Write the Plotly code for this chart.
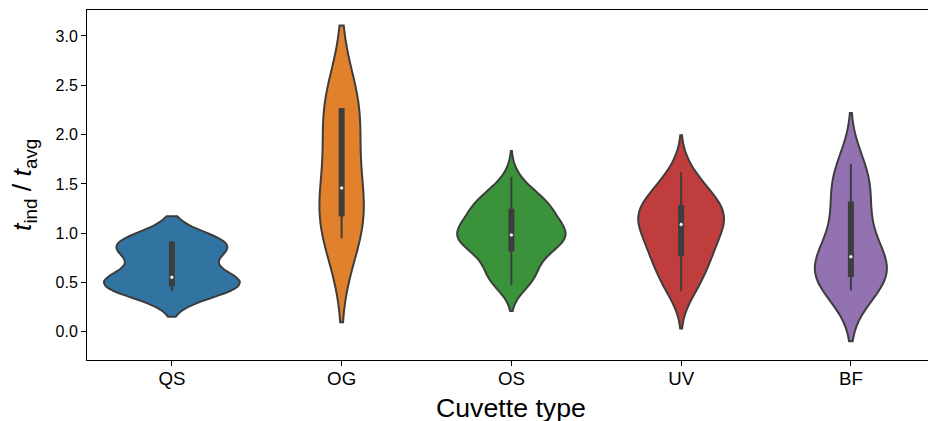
import numpy as np
import plotly.graph_objects as go

# Normalised individual times t_ind / t_avg for each cuvette type
CATEGORIES = ["QS", "OG", "OS", "UV", "BF"]

QS = [0.421, 0.46, 0.492, 0.52, 0.553, 0.80, 0.887, 0.896, 0.905]
OG = [0.958, 1.201, 1.458, 2.238, 2.245]
OS = [0.486, 0.50, 0.53, 0.57, 0.62, 0.67, 0.72, 0.77, 0.82, 0.872,
      0.885, 0.90, 0.915, 0.93, 0.945, 0.96, 0.972, 0.982, 1.01, 1.04,
      1.06, 1.08, 1.10, 1.12, 1.15, 1.19, 1.246, 1.26, 1.28, 1.30,
      1.32, 1.35, 1.38, 1.44, 1.559]
UV = [0.421, 0.53, 0.64, 0.77, 0.805, 0.88, 0.98, 1.06, 1.118, 1.15,
      1.19, 1.24, 1.30, 1.37, 1.45, 1.606]
BF = [0.431, 0.48, 0.53, 0.587, 0.63, 0.70, 0.762, 0.90, 1.08, 1.292,
      1.42, 1.585, 1.694]

SAMPLES = [QS, OG, OS, UV, BF]

Y_TICKS = [0.0, 0.5, 1.0, 1.5, 2.0, 2.5, 3.0]
Y_RANGE = [-0.285, 3.263]

# styling
COLORS = ["#3274a1", "#e1812c", "#3a923a", "#c03d3e", "#9372b2"]
EDGE = "#3d3d3d"
FONT = "Liberation Sans, Arial, Helvetica, sans-serif"
W, H = 928, 421
M_L, M_R, M_T, M_B = 87, 0, 10, 61
FULL_WIDTH = 0.8


def scott_bandwidth(values):
    v = np.asarray(values, dtype=float)
    return v.std(ddof=1) * len(v) ** (-1.0 / 5.0)


def kde_peak(values, bw):
    """Maximum of the normalised Gaussian KDE over its soft span."""
    v = np.asarray(values, dtype=float)
    grid = np.linspace(v.min() - 2 * bw, v.max() + 2 * bw, 400)
    z = (grid[:, None] - v[None, :]) / bw
    dens = np.exp(-0.5 * z ** 2).sum(axis=1) / (len(v) * bw * np.sqrt(2 * np.pi))
    return dens.max()


def box_stats(values):
    v = np.asarray(values, dtype=float)
    q1, med, q3 = np.percentile(v, [25, 50, 75])
    lim = 1.5 * (q3 - q1)
    lo = v[v >= q1 - lim].min()
    hi = v[v <= q3 + lim].max()
    return q1, med, q3, lo, hi


# equal-area scaling: the tallest density peak gets the full width
bandwidths = [scott_bandwidth(v) for v in SAMPLES]
peaks = [kde_peak(v, bw) for v, bw in zip(SAMPLES, bandwidths)]
widths = [FULL_WIDTH * p / max(peaks) for p in peaks]

# data units per screen pixel on the y axis (for square line caps)
units_per_px = (Y_RANGE[1] - Y_RANGE[0]) / (H - M_T - M_B)

fig = go.Figure()

for cat, vals, col, bw, wd in zip(CATEGORIES, SAMPLES, COLORS, bandwidths, widths):
    fig.add_trace(go.Violin(
        x=[cat] * len(vals), y=vals,
        bandwidth=bw, spanmode="soft",
        scalegroup=cat, scalemode="width", width=wd,
        fillcolor=col, opacity=1,
        line=dict(color=EDGE, width=2),
        points=False, box_visible=False, meanline_visible=False,
        hoverinfo="skip", showlegend=False,
    ))

for cat, vals in zip(CATEGORIES, SAMPLES):
    q1, med, q3, lo, hi = box_stats(vals)
    # whisker
    fig.add_trace(go.Scatter(
        x=[cat, cat], y=[lo - 1 * units_per_px, hi + 1 * units_per_px],
        mode="lines", line=dict(color=EDGE, width=2),
        hoverinfo="skip", showlegend=False,
    ))
    # interquartile bar
    fig.add_trace(go.Scatter(
        x=[cat, cat], y=[q1 - 3 * units_per_px, q3 + 3 * units_per_px],
        mode="lines", line=dict(color=EDGE, width=6),
        hoverinfo="skip", showlegend=False,
    ))
    # median point
    fig.add_trace(go.Scatter(
        x=[cat], y=[med], mode="markers",
        marker=dict(color="white", size=4, line=dict(color=EDGE, width=0.8)),
        hoverinfo="skip", showlegend=False,
    ))

plot_w = W - M_L - M_R
y_title_px = 24

fig.update_layout(
    width=W, height=H,
    margin=dict(l=M_L, r=M_R, t=M_T, b=M_B, autoexpand=False),
    paper_bgcolor="white", plot_bgcolor="white",
    violinmode="overlay", showlegend=False,
    font=dict(family=FONT, color="black"),
    xaxis=dict(
        type="category", categoryorder="array", categoryarray=CATEGORIES,
        range=[-0.5, -0.5 + plot_w / 169.75],
        showline=True, linecolor="black", linewidth=1, mirror=True,
        ticks="outside", ticklen=5, tickwidth=1, tickcolor="black",
        ticklabelstandoff=-3,
        tickfont=dict(size=18.7, family=FONT, color="black"),
        showgrid=False, zeroline=False,
    ),
    yaxis=dict(
        range=Y_RANGE, tickvals=Y_TICKS, tickformat=".1f",
        showline=True, linecolor="black", linewidth=1, mirror=False,
        ticks="outside", ticklen=5, tickwidth=1, tickcolor="black",
        tickfont=dict(size=16, family=FONT, color="black"),
        showgrid=False, zeroline=False,
    ),
    annotations=[
        dict(text="Cuvette type", xref="x", yref="paper", x=2, y=-0.088,
             xanchor="center", yanchor="top", showarrow=False,
             font=dict(size=26.7, family=FONT, color="black")),
        dict(text="<i>t</i><sub>ind</sub> / <i>t</i><sub>avg</sub>",
             xref="paper", yref="paper",
             x=(y_title_px - M_L) / plot_w, y=0.5,
             xanchor="center", yanchor="middle", textangle=-90,
             showarrow=False,
             font=dict(size=26.7, family=FONT, color="black")),
    ],
)

fig.write_html("out.html")
